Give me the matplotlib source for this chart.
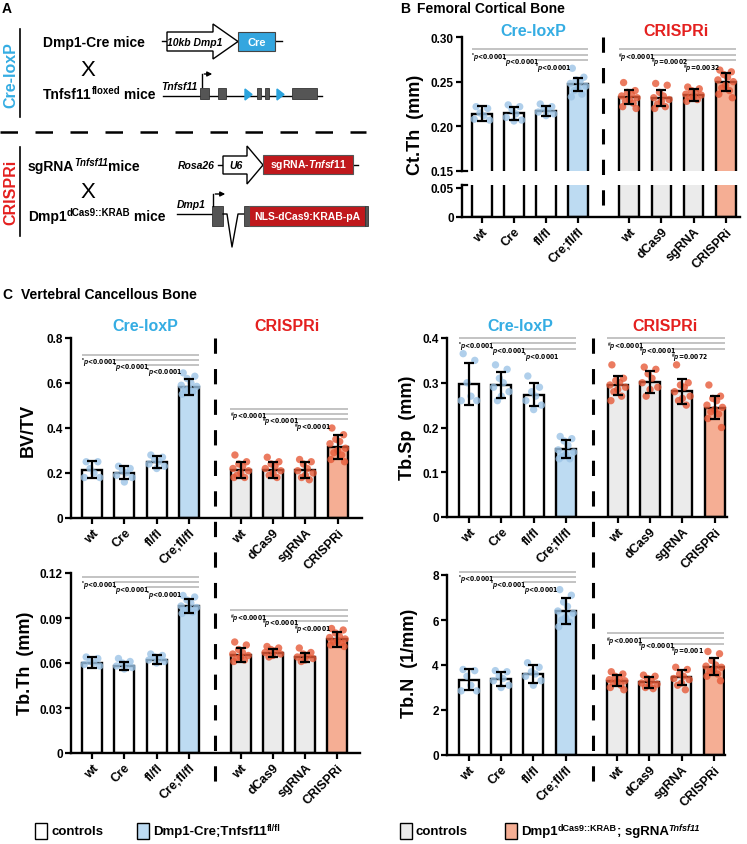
import matplotlib
matplotlib.use("Agg")
import matplotlib.pyplot as plt
from matplotlib import font_manager
from matplotlib.font_manager import FontProperties
from matplotlib.patches import Rectangle, Polygon

plt.rcParams["font.family"] = ["Liberation Sans", "DejaVu Sans"]
plt.rcParams["font.weight"] = "bold"
plt.rcParams["axes.labelweight"] = "bold"
plt.rcParams["mathtext.fontset"] = "custom"
plt.rcParams["mathtext.rm"] = "Liberation Sans:bold"
plt.rcParams["mathtext.it"] = "Liberation Sans:italic:bold"
plt.rcParams["mathtext.bf"] = "Liberation Sans:bold"
plt.rcParams["mathtext.default"] = "rm"

# a condensed face for the tiny p-value labels, if one is installed
_narrow = [f.fname for f in font_manager.fontManager.ttflist
           if "LiberationSansNarrow-Bold." in f.fname or "DejaVuSansCondensed-Bold." in f.fname]
if _narrow:
    SIG_FONT = FontProperties(fname=sorted(_narrow)[-1], size=4.9)
else:
    SIG_FONT = FontProperties(family="Liberation Sans", weight="normal", size=4.6)

W, H = 747, 845

# ---- data -------------------------------------------------------------
groups = ["wt", "Cre", "fl/fl", "Cre;fl/fl", "wt", "dCas9", "sgRNA", "CRISPRi"]
positions = [0, 1, 2, 3, 4.6, 5.6, 6.6, 7.6]

ctth_mean = [0.214, 0.2145, 0.217, 0.247, 0.2328, 0.2317, 0.235, 0.2496]
ctth_sd = [0.0085, 0.0075, 0.0055, 0.0075, 0.0078, 0.0085, 0.0065, 0.010]
ctth_pts = [
    [0.222, 0.220, 0.215, 0.212, 0.208, 0.207],
    [0.224, 0.222, 0.219, 0.214, 0.210, 0.207, 0.206],
    [0.225, 0.222, 0.220, 0.218, 0.216, 0.214, 0.212],
    [0.265, 0.255, 0.252, 0.250, 0.248, 0.245, 0.243, 0.240, 0.236, 0.233],
    [0.249, 0.240, 0.238, 0.236, 0.234, 0.232, 0.230, 0.228, 0.226, 0.222, 0.220],
    [0.248, 0.246, 0.238, 0.234, 0.232, 0.230, 0.228, 0.225, 0.222, 0.220],
    [0.244, 0.242, 0.240, 0.238, 0.236, 0.235, 0.233, 0.232, 0.230, 0.228],
    [0.263, 0.261, 0.258, 0.255, 0.252, 0.250, 0.246, 0.243, 0.240, 0.236, 0.232],
]

bvtv_mean = [0.215, 0.201, 0.249, 0.582, 0.215, 0.215, 0.212, 0.316]
bvtv_sd = [0.037, 0.028, 0.028, 0.037, 0.035, 0.035, 0.035, 0.053]
bvtv_pts = [
    [0.25, 0.25, 0.22, 0.20, 0.18, 0.18],
    [0.23, 0.22, 0.21, 0.20, 0.19, 0.18, 0.16],
    [0.28, 0.27, 0.26, 0.25, 0.24, 0.23, 0.22],
    [0.645, 0.63, 0.62, 0.60, 0.59, 0.585, 0.575, 0.57, 0.56, 0.55],
    [0.28, 0.25, 0.24, 0.23, 0.22, 0.21, 0.20, 0.19, 0.18, 0.18],
    [0.27, 0.25, 0.24, 0.23, 0.22, 0.21, 0.20, 0.19, 0.18],
    [0.26, 0.25, 0.24, 0.22, 0.21, 0.20, 0.19, 0.18, 0.17],
    [0.40, 0.37, 0.35, 0.34, 0.33, 0.31, 0.30, 0.29, 0.28, 0.26, 0.25],
]

tbsp_mean = [0.297, 0.296, 0.273, 0.151, 0.294, 0.302, 0.281, 0.244]
tbsp_sd = [0.047, 0.029, 0.026, 0.020, 0.022, 0.025, 0.028, 0.026]
tbsp_pts = [
    [0.365, 0.35, 0.30, 0.27, 0.26, 0.26],
    [0.34, 0.33, 0.31, 0.30, 0.29, 0.28, 0.27, 0.26],
    [0.315, 0.29, 0.28, 0.27, 0.26, 0.25, 0.24],
    [0.18, 0.175, 0.17, 0.16, 0.15, 0.145, 0.14, 0.135, 0.13, 0.13],
    [0.34, 0.31, 0.305, 0.30, 0.295, 0.29, 0.285, 0.28, 0.27, 0.26],
    [0.335, 0.33, 0.32, 0.31, 0.30, 0.29, 0.285, 0.27],
    [0.34, 0.30, 0.295, 0.29, 0.28, 0.27, 0.265, 0.26, 0.25],
    [0.295, 0.27, 0.265, 0.26, 0.25, 0.245, 0.24, 0.235, 0.23, 0.22, 0.20],
]

tbth_mean = [0.0601, 0.0583, 0.0623, 0.098, 0.0655, 0.0666, 0.0639, 0.0757]
tbth_sd = [0.0037, 0.0027, 0.0028, 0.0045, 0.0045, 0.0028, 0.0031, 0.0047]
tbth_pts = [
    [0.064, 0.063, 0.061, 0.060, 0.059, 0.058],
    [0.063, 0.061, 0.060, 0.059, 0.058, 0.057, 0.056],
    [0.066, 0.065, 0.064, 0.063, 0.062, 0.061, 0.060],
    [0.105, 0.104, 0.102, 0.100, 0.098, 0.097, 0.096, 0.095, 0.094, 0.093],
    [0.074, 0.072, 0.069, 0.067, 0.066, 0.065, 0.064, 0.063, 0.062, 0.061],
    [0.071, 0.070, 0.069, 0.068, 0.067, 0.066, 0.065, 0.064],
    [0.070, 0.067, 0.066, 0.065, 0.064, 0.063, 0.062, 0.061],
    [0.083, 0.082, 0.080, 0.078, 0.077, 0.076, 0.075, 0.074, 0.073, 0.072, 0.071],
]

tbn_mean = [3.35, 3.38, 3.60, 6.41, 3.30, 3.23, 3.45, 3.93]
tbn_sd = [0.48, 0.31, 0.38, 0.59, 0.24, 0.25, 0.33, 0.39]
tbn_pts = [
    [3.8, 3.75, 3.5, 3.1, 2.85, 2.85],
    [3.75, 3.7, 3.5, 3.4, 3.3, 3.1, 3.0],
    [4.1, 3.9, 3.7, 3.6, 3.5, 3.3, 3.1],
    [7.35, 7.1, 6.8, 6.6, 6.4, 6.3, 6.1, 6.0, 5.9, 5.7],
    [3.7, 3.6, 3.5, 3.4, 3.35, 3.3, 3.25, 3.2, 3.1, 3.0, 2.9],
    [3.55, 3.5, 3.4, 3.3, 3.2, 3.15, 3.1, 3.0, 2.95],
    [3.9, 3.8, 3.6, 3.5, 3.4, 3.35, 3.2, 3.1, 2.9],
    [4.6, 4.5, 4.2, 4.0, 3.95, 3.9, 3.8, 3.7, 3.6, 3.5, 3.3],
]

# p-values vs. the knockout / CRISPRi group
ctth_p = ["*<0.0001", "*<0.0001", "*<0.0001", "#<0.0001", "#=0.0002", "#=0.0032"]
bvtv_p = ["*<0.0001", "*<0.0001", "*<0.0001", "#<0.0001", "#<0.0001", "#<0.0001"]
tbsp_p = ["*<0.0001", "*<0.0001", "*<0.0001", "#<0.0001", "#<0.0001", "#=0.0072"]
tbth_p = ["*<0.0001", "*<0.0001", "*<0.0001", "#<0.0001", "#<0.0001", "#<0.0001"]
tbn_p = ["*<0.0001", "*<0.0001", "*<0.0001", "#<0.0001", "#<0.0001", "#=0.001"]

# ---- style ------------------------------------------------------------
BLUE_FILL = "#bddbf2"
BLUE_PT = "#9cc4e6"
RED_FILL = "#f5ae94"
RED_PT = "#e65a38"
GREY_FILL = "#ebebeb"
CRE_COL = "#35ade3"
CRI_COL = "#e4201f"
SIG_COL = "#b3b3b3"
bar_colors = ["white"] * 3 + [BLUE_FILL] + [GREY_FILL] * 3 + [RED_FILL]
pt_colors = [BLUE_PT] * 4 + [RED_PT] * 4
JITTER = [-0.18, 0.18, -0.06, 0.06, -0.24, 0.24, 0.0, -0.12, 0.12, -0.21, 0.21, -0.02]

fig = plt.figure(figsize=(W / 100, H / 100), dpi=100)

ov = fig.add_axes([0, 0, 1, 1])
ov.set_xlim(0, W)
ov.set_ylim(H, 0)
ov.axis("off")


def px_axes(left, right, top, bottom):
    ax = fig.add_axes([left / W, 1 - bottom / H, (right - left) / W, (bottom - top) / H])
    ax.set_facecolor("none")
    return ax


def style_axes(ax, xlim):
    for s in ("top", "right"):
        ax.spines[s].set_visible(False)
    for s in ("left", "bottom"):
        ax.spines[s].set_linewidth(1.7)
    ax.set_xlim(*xlim)
    ax.tick_params(width=1.6, length=4, labelsize=8.5, pad=2)
    ax.set_xticks(positions)
    ax.set_xticklabels(groups, rotation=45, ha="right", rotation_mode="anchor",
                       fontsize=9, fontweight="bold")


def draw_bars(ax, means, sds, pts, with_points=True):
    ax.bar(positions, means, width=0.62, color=bar_colors, edgecolor="black",
           linewidth=1.7, zorder=2)
    if with_points:
        for x, vals, c in zip(positions, pts, pt_colors):
            xs = [x + j for j in JITTER[:len(vals)]]
            ax.scatter(xs, vals, s=28, color=c, alpha=0.8, edgecolors="none",
                       zorder=3, clip_on=False)
        ax.errorbar(positions, means, yerr=sds, fmt="none", ecolor="black",
                    elinewidth=1.6, capsize=3.5, capthick=1.6, zorder=4)


def sig_label(code):
    sym = "*" if code[0] == "*" else r"\#"
    return r"$^{%s}\mathit{p}$%s" % (sym, code[1:])


def draw_sig(ax, cre_h, cri_h, labels):
    for k in range(3):
        for hs, start, end, lab in ((cre_h, positions[k], positions[3], labels[k]),
                                    (cri_h, positions[4 + k], positions[7], labels[3 + k])):
            ax.plot([start - 0.32, end + 0.32], [hs[k], hs[k]], color=SIG_COL, lw=1.1,
                    clip_on=False, zorder=1, solid_capstyle="butt")
            ax.annotate(sig_label(lab), (start - 0.34, hs[k]), xytext=(0, -1.0),
                        textcoords="offset points", ha="left", va="top",
                        fontproperties=SIG_FONT, annotation_clip=False)


def rich_text(x, y, segments, size=10, sup_size=7, color="black", zorder=3):
    """Chain text pieces left to right; kind: n=normal, s=superscript, si=italic superscript."""
    base = ov.text(x, y, segments[0][0], fontsize=size, va="center", color=color, zorder=zorder)
    prev = base
    for s, kind in segments[1:]:
        if kind == "n":
            prev = ov.annotate(s, xy=(1, 0), xycoords=(prev, base), va="bottom",
                               fontsize=size, color=color, zorder=zorder)
        else:
            prev = ov.annotate(s, xy=(1, 0.42), xycoords=(prev, base), va="bottom",
                               fontsize=sup_size, color=color, zorder=zorder,
                               fontstyle="italic" if kind == "si" else "normal")
    return base


# ---- panel B (broken axis) ----------------------------------------------
b_xlim = (-0.62, 8.05)
axb = px_axes(462, 740, 38, 172)
axb2 = px_axes(462, 740, 186, 218)
draw_bars(axb, ctth_mean, ctth_sd, ctth_pts)
draw_bars(axb2, ctth_mean, ctth_sd, ctth_pts, with_points=False)
style_axes(axb, b_xlim)
style_axes(axb2, b_xlim)
axb.set_ylim(0.15, 0.30)
axb.set_yticks([0.15, 0.20, 0.25, 0.30])
axb.set_yticklabels(["0.15", "0.20", "0.25", "0.30"], fontweight="bold")
axb.spines["bottom"].set_visible(False)
axb.tick_params(axis="x", bottom=False, labelbottom=False)
axb2.set_ylim(0, 0.055)
axb2.set_yticks([0, 0.05])
axb2.set_yticklabels(["0", "0.05"], fontweight="bold")
draw_sig(axb, [0.2862, 0.2802, 0.2743], [0.2862, 0.2802, 0.2743], ctth_p)
# break marks on the y axis
ov.plot([462, 467], [172, 172], color="black", lw=1.6)
ov.plot([462, 467], [186, 186], color="black", lw=1.6)

# ---- panel C ------------------------------------------------------------
ax_bv = px_axes(71, 362, 339, 519)
draw_bars(ax_bv, bvtv_mean, bvtv_sd, bvtv_pts)
style_axes(ax_bv, (-0.65, 8.35))
ax_bv.set_ylim(0, 0.8)
ax_bv.set_yticks([0, 0.2, 0.4, 0.6, 0.8])
ax_bv.set_yticklabels(["0", "0.2", "0.4", "0.6", "0.8"], fontweight="bold")
draw_sig(ax_bv, [0.726, 0.704, 0.681], [0.486, 0.464, 0.438], bvtv_p)

ax_sp = px_axes(447, 727, 339, 518)
draw_bars(ax_sp, tbsp_mean, tbsp_sd, tbsp_pts)
style_axes(ax_sp, (-0.68, 7.98))
ax_sp.set_ylim(0, 0.4)
ax_sp.set_yticks([0, 0.1, 0.2, 0.3, 0.4])
ax_sp.set_yticklabels(["0", "0.1", "0.2", "0.3", "0.4"], fontweight="bold")
draw_sig(ax_sp, [0.400, 0.388, 0.375], [0.400, 0.388, 0.375], tbsp_p)

ax_th = px_axes(71, 360, 574, 754)
draw_bars(ax_th, tbth_mean, tbth_sd, tbth_pts)
style_axes(ax_th, (-0.65, 8.3))
ax_th.set_ylim(0, 0.12)
ax_th.set_yticks([0, 0.03, 0.06, 0.09, 0.12])
ax_th.set_yticklabels(["0", "0.03", "0.06", "0.09", "0.12"], fontweight="bold")
draw_sig(ax_th, [0.1173, 0.1140, 0.1104], [0.0951, 0.0915, 0.0879], tbth_p)

ax_n = px_axes(447, 725, 576, 756)
draw_bars(ax_n, tbn_mean, tbn_sd, tbn_pts)
style_axes(ax_n, (-0.68, 7.95))
ax_n.set_ylim(0, 8)
ax_n.set_yticks([0, 2, 4, 6, 8])
ax_n.set_yticklabels(["0", "2", "4", "6", "8"], fontweight="bold")
draw_sig(ax_n, [8.15, 7.91, 7.67], [5.41, 5.19, 4.95], tbn_p)

# y labels
for x, y, txt in ((415, 125, "Ct.Th  (mm)"), (28, 430, "BV/TV"), (407, 428, "Tb.Sp  (mm)"),
                  (25, 663, "Tb.Th  (mm)"), (410, 663, "Tb.N  (1/mm)")):
    ov.text(x, y, txt, rotation=90, ha="center", va="center", fontsize=13)

# group titles
for x, y, txt, c in ((533, 32, "Cre-loxP", CRE_COL), (676, 32, "CRISPRi", CRI_COL),
                     (145, 327, "Cre-loxP", CRE_COL), (287, 327, "CRISPRi", CRI_COL),
                     (520, 327, "Cre-loxP", CRE_COL), (665, 327, "CRISPRi", CRI_COL)):
    ov.text(x, y, txt, color=c, ha="center", va="center", fontsize=11.5)

# dashed separators
dash = dict(color="black", lw=2.2, linestyle=(0, (5, 5)))
ov.plot([603, 603], [38, 218], **dash)
ov.plot([215, 215], [339, 797], **dash)
ov.plot([593, 593], [339, 797], **dash)
ov.plot([0, 366], [133, 133], color="black", lw=1.8, linestyle=(0, (7, 7)))

# panel labels
ov.text(2, 9, "A", fontsize=10, va="center")
ov.text(400, 9, "B", fontsize=10, va="center")
ov.text(417, 9, "Femoral Cortical Bone", fontsize=10, va="center")
ov.text(2, 295, "C", fontsize=10, va="center")
ov.text(21, 295, "Vertebral Cancellous Bone", fontsize=10, va="center")

# ---- panel A schematic --------------------------------------------------
ov.plot([20, 20], [30, 118], color="black", lw=1.2)
ov.plot([20, 20], [148, 237], color="black", lw=1.2)
ov.text(11, 75, "Cre-loxP", rotation=90, color=CRE_COL, ha="center", va="center", fontsize=11.5)
ov.text(11, 192, "CRISPRi", rotation=90, color=CRI_COL, ha="center", va="center", fontsize=11.5)

ov.text(43, 43, "Dmp1-Cre mice", fontsize=10, va="center")
ov.text(88, 70, "X", fontsize=16, fontweight="normal", ha="center", va="center")
rich_text(43, 95, [("Tnfsf11", "n"), ("floxed", "s"), (" mice", "n")])
rich_text(28, 167, [("sgRNA", "n"), ("Tnfsf11", "si"), ("mice", "n")])
ov.text(88, 192, "X", fontsize=16, fontweight="normal", ha="center", va="center")
rich_text(28, 217, [("Dmp1", "n"), ("dCas9::KRAB", "s"), (" mice", "n")])


def block_arrow(x0, x1, xh, y0, y1, h0, h1):
    return Polygon([(x0, y0), (xh, y0), (xh, h0), (x1, (h0 + h1) / 2), (xh, h1), (xh, y1), (x0, y1)],
                   closed=True, facecolor="white", edgecolor="black", lw=1.0)


# Dmp1-Cre transgene
ov.plot([162, 282], [42, 42], color="black", lw=1.0, zorder=1)
ov.add_patch(block_arrow(167, 238, 213, 33, 52, 25, 60))
ov.text(195, 42.5, "10kb Dmp1", fontsize=7.5, style="italic", ha="center", va="center")
ov.add_patch(Rectangle((238, 33), 37, 19, facecolor="#34a6df", edgecolor="#444444", lw=0.8, zorder=2))
ov.text(256.5, 42.5, "Cre", color="white", fontsize=8, ha="center", va="center", zorder=3)

# floxed Tnfsf11 locus
ov.plot([163, 322], [97, 97], color="black", lw=1.0, zorder=1)
ov.text(161, 87, "Tnfsf11", fontsize=7.5, style="italic", va="center")
ov.plot([202, 202], [88, 75], color="black", lw=1.0)
ov.annotate("", xy=(215, 75), xytext=(201.5, 75),
            arrowprops=dict(arrowstyle="-|>", lw=1.0, color="black", mutation_scale=7))
for x0, x1 in ((200, 209), (218, 226), (257, 261), (265, 269), (292, 317)):
    ov.add_patch(Rectangle((x0, 89), x1 - x0, 11, facecolor="#555555", edgecolor="#333333", lw=0.6, zorder=2))
for xt in (245, 277):
    ov.add_patch(Polygon([(xt, 90), (xt, 101), (xt + 7, 95.5)], closed=True,
                         facecolor="#2aa3dd", edgecolor="#2aa3dd", zorder=2))

# Rosa26 sgRNA cassette
ov.text(215, 166, "Rosa26", fontsize=7.5, style="italic", ha="right", va="center")
ov.plot([218, 358], [166, 166], color="black", lw=1.0, zorder=1)
ov.add_patch(block_arrow(223, 263, 247, 157, 175, 147, 185))
ov.text(236, 166, "U6", fontsize=7.5, style="italic", ha="center", va="center")
ov.add_patch(Rectangle((263, 155.5), 90, 19.5, facecolor="#c0181c", edgecolor="#555555", lw=0.8, zorder=2))
ov.text(308, 165.5, r"sgRNA-$\mathit{Tnfsf11}$", color="white", fontsize=7.5,
        ha="center", va="center", zorder=3)

# Dmp1 dCas9-KRAB knock-in
ov.text(177, 205, "Dmp1", fontsize=7.5, style="italic", va="center")
ov.plot([177, 212], [215, 215], color="black", lw=1.0)
ov.add_patch(Rectangle((212, 207), 11, 20, facecolor="#555555", edgecolor="#333333", lw=0.6, zorder=2))
ov.plot([213, 213], [207, 195], color="black", lw=1.0)
ov.annotate("", xy=(228, 195), xytext=(212.5, 195),
            arrowprops=dict(arrowstyle="-|>", lw=1.0, color="black", mutation_scale=7))
ov.plot([223, 227, 232, 238, 244], [215, 215, 248, 215, 215], color="black", lw=1.0)
ov.add_patch(Rectangle((244, 207), 5, 20, facecolor="#555555", edgecolor="#333333", lw=0.6, zorder=2))
ov.add_patch(Rectangle((249, 207), 116, 20, facecolor="#c0181c", edgecolor="#555555", lw=0.8, zorder=2))
ov.add_patch(Rectangle((365, 207), 3, 20, facecolor="#555555", edgecolor="#333333", lw=0.6, zorder=2))
ov.text(307, 217, "NLS-dCas9:KRAB-pA", color="white", fontsize=7.5,
        ha="center", va="center", zorder=3)

# ---- legend -------------------------------------------------------------
leg_items = [
    (35, "white", [("controls", "n")]),
    (137, BLUE_FILL, [("Dmp1-Cre;Tnfsf11", "n"), ("fl/fl", "s")]),
    (400, GREY_FILL, [("controls", "n")]),
    (505, RED_FILL, [("Dmp1", "n"), ("dCas9::KRAB", "s"), ("; sgRNA", "n"), ("Tnfsf11", "si")]),
]
for x, c, segs in leg_items:
    ov.add_patch(Rectangle((x, 824), 12, 16, facecolor=c, edgecolor="black", lw=1.0))
    rich_text(x + 16, 832, segs, size=9.5, sup_size=6.5)

fig.savefig("out.png", dpi=100)
